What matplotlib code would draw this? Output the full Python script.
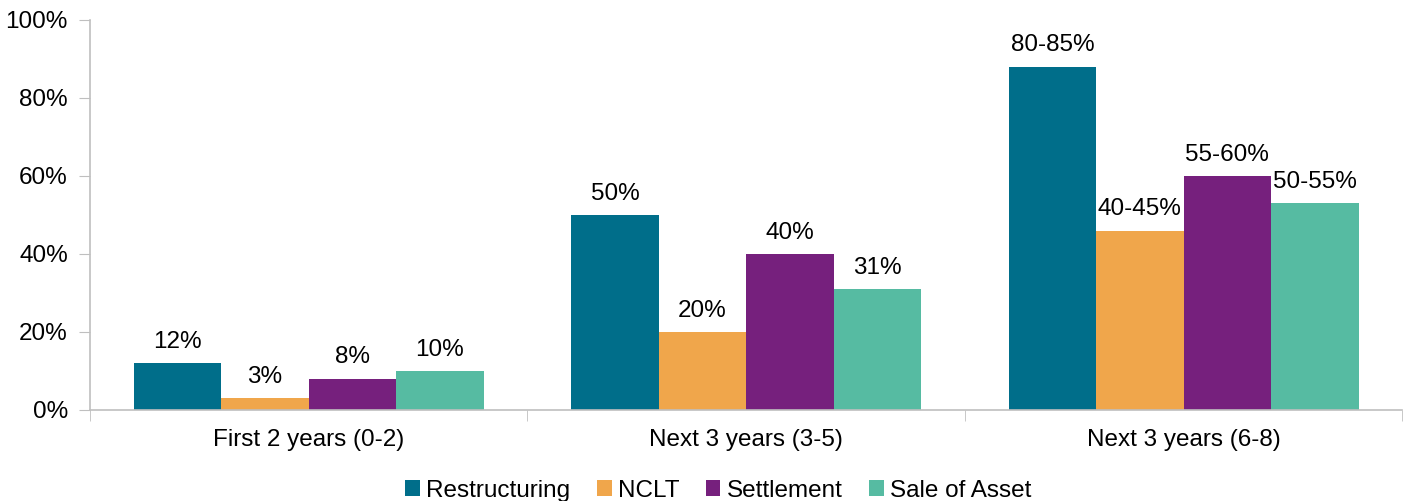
import matplotlib.pyplot as plt
import numpy as np
from matplotlib.ticker import FixedLocator, PercentFormatter

plt.rcParams['font.family'] = ['Liberation Sans', 'DejaVu Sans']

# Data
periods = ["First 2 years (0-2)", "Next 3 years (3-5)", "Next 3 years (6-8)"]
series = ["Restructuring", "NCLT", "Settlement", "Sale of Asset"]
restructuring = [12, 50, 88]
nclt = [3, 20, 46]
settlement = [8, 40, 60]
sale_of_asset = [10, 31, 53]
labels = [
    ["12%", "50%", "80-85%"],
    ["3%", "20%", "40-45%"],
    ["8%", "40%", "55-60%"],
    ["10%", "31%", "50-55%"],
]
colors = ["#006E8A", "#F0A64B", "#76207D", "#56BBA2"]

values = [restructuring, nclt, settlement, sale_of_asset]
FS = 17.5

fig = plt.figure(figsize=(14.03, 5.01), dpi=100)
ax = fig.add_axes([90 / 1403, 1 - 410 / 501, 1 - 90 / 1403 - 0.0005, 390 / 501])

x = np.arange(len(periods))
width = 0.2
for i, (name, vals) in enumerate(zip(series, values)):
    pos = x + (i - 1.5) * width
    bars = ax.bar(pos, vals, width, color=colors[i], label=name)
    for b, lab in zip(bars, labels[i]):
        ax.annotate(lab, (b.get_x() + b.get_width() / 2, b.get_height()),
                    xytext=(0, 7.5), textcoords="offset points",
                    ha="center", va="bottom", fontsize=FS)

ax.set_xlim(-0.5, 2.5)
ax.set_ylim(0, 100)
ax.set_yticks(range(0, 101, 20))
ax.yaxis.set_major_formatter(PercentFormatter(decimals=0))
ax.set_xticks(x)
ax.set_xticklabels(periods)
ax.xaxis.set_minor_locator(FixedLocator([-0.5, 0.5, 1.5, 2.5]))
ax.tick_params(axis="x", which="major", length=0, labelsize=FS, pad=14)
ax.tick_params(axis="x", which="minor", length=8, color="#BFBFBF")
ax.tick_params(axis="y", length=8, color="#BFBFBF", labelsize=FS, pad=8)

for s in ["top", "right"]:
    ax.spines[s].set_visible(False)
for s in ["left", "bottom"]:
    ax.spines[s].set_color("#BFBFBF")
    ax.spines[s].set_linewidth(1.2)

fig.legend(loc="lower center", bbox_to_anchor=(0.512, -0.045), ncol=4,
           frameon=False, fontsize=FS, handlelength=0.6, handleheight=0.6,
           handletextpad=0.25, columnspacing=1.1)

fig.savefig("out.png", dpi=100)
